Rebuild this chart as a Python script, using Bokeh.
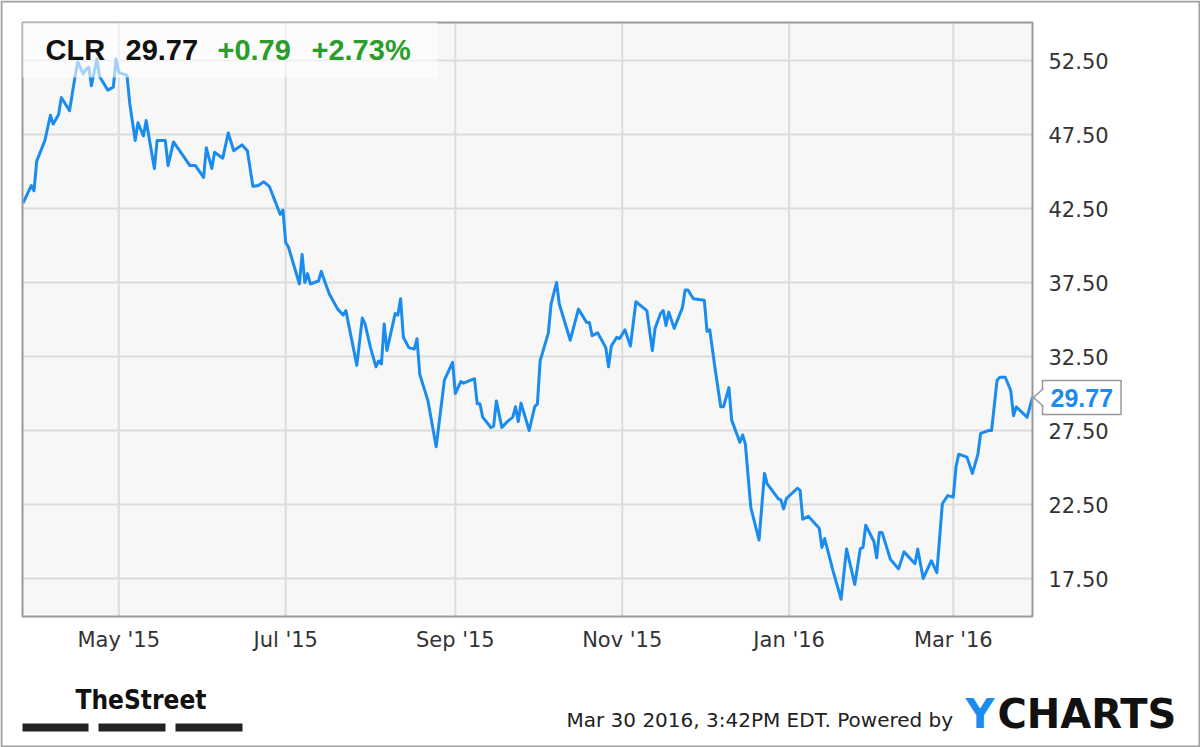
from datetime import datetime, timedelta
import pandas as pd
from bokeh.plotting import figure
from bokeh.models import (ColumnDataSource, Range1d, FixedTicker, DatetimeTickFormatter,
                          PrintfTickFormatter, BoxAnnotation, Label, PolyAnnotation)
from bokeh.embed import file_html
from bokeh.resources import INLINE

# ---------------- data ----------------
ticker_symbol = "CLR"
last_price = "29.77"
change_abs = "+0.79"
change_pct = "+2.73%"
footer_text = "Mar 30 2016, 3:42PM EDT. Powered by"

dates = [
    "2015-03-27", "2015-03-30", "2015-03-31", "2015-04-01", "2015-04-04", "2015-04-06", "2015-04-07",
    "2015-04-09", "2015-04-10", "2015-04-13", "2015-04-15", "2015-04-16", "2015-04-18", "2015-04-19",
    "2015-04-20", "2015-04-21", "2015-04-23", "2015-04-24", "2015-04-27", "2015-04-29", "2015-04-30",
    "2015-05-01", "2015-05-04", "2015-05-05", "2015-05-07", "2015-05-08", "2015-05-10", "2015-05-11",
    "2015-05-14", "2015-05-15", "2015-05-18", "2015-05-19", "2015-05-21", "2015-05-27", "2015-05-29",
    "2015-06-01", "2015-06-02", "2015-06-04", "2015-06-05", "2015-06-08", "2015-06-10", "2015-06-12",
    "2015-06-15", "2015-06-17", "2015-06-19", "2015-06-21", "2015-06-23", "2015-06-25", "2015-06-27",
    "2015-06-29", "2015-06-30",
    "2015-07-01", "2015-07-02", "2015-07-06", "2015-07-07", "2015-07-08", "2015-07-09", "2015-07-10",
    "2015-07-13", "2015-07-14", "2015-07-16", "2015-07-17", "2015-07-20", "2015-07-22", "2015-07-23",
    "2015-07-27", "2015-07-29", "2015-07-30",
    "2015-08-01", "2015-08-03", "2015-08-04", "2015-08-05", "2015-08-06", "2015-08-07", "2015-08-10",
    "2015-08-11", "2015-08-12", "2015-08-13", "2015-08-15", "2015-08-17", "2015-08-18", "2015-08-19",
    "2015-08-22", "2015-08-25", "2015-08-28", "2015-08-31",
    "2015-09-01", "2015-09-03", "2015-09-04", "2015-09-08", "2015-09-09", "2015-09-10", "2015-09-11",
    "2015-09-14", "2015-09-15", "2015-09-16", "2015-09-18", "2015-09-20", "2015-09-22", "2015-09-23",
    "2015-09-24", "2015-09-25", "2015-09-28", "2015-09-30",
    "2015-10-01", "2015-10-02", "2015-10-05", "2015-10-06", "2015-10-08", "2015-10-09", "2015-10-13",
    "2015-10-16", "2015-10-19", "2015-10-20", "2015-10-21", "2015-10-23", "2015-10-26", "2015-10-27",
    "2015-10-28", "2015-10-30", "2015-10-31",
    "2015-11-02", "2015-11-04", "2015-11-06", "2015-11-10", "2015-11-12", "2015-11-13", "2015-11-15",
    "2015-11-16", "2015-11-17", "2015-11-18", "2015-11-20", "2015-11-23", "2015-11-24", "2015-11-25",
    "2015-11-27",
    "2015-12-01", "2015-12-02", "2015-12-03", "2015-12-05", "2015-12-07", "2015-12-08", "2015-12-10",
    "2015-12-11", "2015-12-14", "2015-12-15", "2015-12-16", "2015-12-18", "2015-12-21", "2015-12-23",
    "2015-12-24", "2015-12-28", "2015-12-29", "2015-12-30", "2015-12-31",
    "2016-01-04", "2016-01-05", "2016-01-06", "2016-01-08", "2016-01-11", "2016-01-12", "2016-01-13",
    "2016-01-14", "2016-01-17", "2016-01-20", "2016-01-22", "2016-01-25", "2016-01-27", "2016-01-28",
    "2016-01-29",
    "2016-02-01", "2016-02-02", "2016-02-03", "2016-02-04", "2016-02-06", "2016-02-07", "2016-02-10",
    "2016-02-12", "2016-02-16", "2016-02-17", "2016-02-19", "2016-02-22", "2016-02-24", "2016-02-26",
    "2016-02-28",
    "2016-03-01", "2016-03-02", "2016-03-03", "2016-03-06", "2016-03-08", "2016-03-10", "2016-03-11",
    "2016-03-14", "2016-03-15", "2016-03-17", "2016-03-18", "2016-03-20", "2016-03-22", "2016-03-23",
    "2016-03-24", "2016-03-28", "2016-03-30",
]

close = [
    42.86, 44.05, 43.70, 45.70, 47.10, 48.80, 48.20,
    48.85, 50.00, 49.10, 51.40, 52.40, 51.60, 51.90,
    52.05, 50.80, 52.60, 51.40, 50.50, 50.70, 52.60,
    51.70, 51.50, 49.60, 47.10, 48.30, 47.40, 48.45,
    45.20, 47.10, 47.10, 45.40, 47.00, 45.40, 45.40,
    44.60, 46.60, 45.20, 46.30, 45.90, 47.60, 46.40,
    46.80, 46.40, 44.00, 44.05, 44.30, 44.00, 43.05,
    42.10, 42.40,
    40.20, 39.90, 37.40, 39.40, 37.50, 38.10, 37.40,
    37.60, 38.25, 37.20, 36.70, 35.70, 35.30, 35.60,
    31.90, 35.10, 34.70,
    33.10, 31.80, 32.20, 32.00, 34.70, 32.90, 35.40,
    35.30, 36.40, 33.80, 33.10, 33.00, 33.70, 31.30,
    29.50, 26.40, 30.90, 32.10,
    30.00, 30.80, 30.70, 31.00, 29.30, 29.30, 28.40,
    27.70, 27.80, 29.50, 27.70, 28.10, 28.40, 29.10,
    28.10, 29.35, 27.50, 29.10,
    29.30, 32.20, 34.10, 36.05, 37.50, 36.05, 33.60,
    35.70, 34.80, 34.80, 33.90, 34.10, 33.10, 31.80,
    33.20, 33.80, 33.70,
    34.30, 33.20, 36.20, 35.60, 32.90, 34.40, 35.40,
    35.60, 34.60, 35.50, 34.40, 35.80, 37.00, 37.00,
    36.40,
    36.30, 34.20, 34.30, 31.60, 29.10, 29.10, 30.40,
    28.20, 26.70, 27.20, 26.60, 22.30, 20.10, 24.60,
    23.90, 22.90, 22.80, 22.20, 22.90,
    23.60, 23.45, 21.50, 21.70, 21.10, 20.90, 19.60,
    20.20, 18.05, 16.10, 19.50, 17.10, 19.50, 19.60,
    21.10,
    20.00, 18.90, 20.60, 20.60, 19.40, 18.80, 18.15,
    19.30, 18.50, 19.50, 17.50, 18.70, 17.90, 22.55,
    23.10,
    23.00, 25.05, 25.90, 25.70, 24.60, 25.90, 27.30,
    27.50, 27.50, 30.90, 31.10, 31.10, 30.20, 28.50,
    29.10, 28.40, 29.77,
]

x_tick_dates = ["2015-05-01", "2015-07-01", "2015-09-01", "2015-11-01", "2016-01-01", "2016-03-01"]
y_ticks = [17.5, 22.5, 27.5, 32.5, 37.5, 42.5, 47.5, 52.5]

# ---------------- positioning helpers (canvas pixel -> data) ----------------
EPOCH = datetime(1970, 1, 1)
BASE = datetime(2015, 5, 1)
W, H = 1200, 747


def ms(dt):
    return (dt - EPOCH).total_seconds() * 1000.0


def xpx(px):
    return ms(BASE + timedelta(days=(px - 118.3) / 2.736))


def ypx(py):
    return 52.5 - (py - 60.0) / 14.8


PL, PR, PT, PB = 22, 1032, 22, 616   # chart panel edges in canvas px

LINE_BLUE = "#1a8cf0"
TICK_FONT = "DejaVu Sans"

src = ColumnDataSource(dict(date=pd.to_datetime(dates), close=close))
x_tick_ms = [ms(datetime.strptime(d, "%Y-%m-%d")) for d in x_tick_dates]

p = figure(width=W, height=H, x_axis_type="datetime", y_axis_location="right",
           x_range=Range1d(xpx(0), xpx(W)), y_range=Range1d(ypx(H), ypx(0)),
           output_backend="svg", toolbar_location=None,
           min_border=0, min_border_left=0, min_border_right=0,
           min_border_top=0, min_border_bottom=0)
p.background_fill_color = "white"
p.border_fill_color = "white"
p.outline_line_color = None
p.grid.visible = False

# chart panel background
p.add_layout(BoxAnnotation(left=xpx(PL), right=xpx(PR), top=ypx(PT), bottom=ypx(PB),
                           fill_color="#f7f7f7", fill_alpha=1, line_alpha=0, level="underlay"))

# grid lines at the axis ticks, limited to the chart panel
p.segment(x0=x_tick_ms, x1=x_tick_ms, y0=[ypx(PB)] * len(x_tick_ms), y1=[ypx(PT)] * len(x_tick_ms),
          line_color="#dcdcdc", line_width=2)
p.segment(x0=[xpx(PL)] * len(y_ticks), x1=[xpx(PR)] * len(y_ticks), y0=y_ticks, y1=y_ticks,
          line_color="#dcdcdc", line_width=2)

p.line(x="date", y="close", source=src, line_color=LINE_BLUE, line_width=3, line_join="round")

# panel outline
p.add_layout(BoxAnnotation(left=xpx(PL), right=xpx(PR), top=ypx(PT), bottom=ypx(PB),
                           fill_alpha=0, line_color="#9a9a9a", line_alpha=1, line_width=2))
# outer image border
p.add_layout(BoxAnnotation(left=xpx(1), right=xpx(W - 1), top=ypx(1), bottom=ypx(H - 1),
                           fill_alpha=0, line_color="#a0a0a0", line_alpha=1, line_width=2))

# axes (labels pulled inside the canvas)
p.xaxis.ticker = FixedTicker(ticks=x_tick_ms)
p.xaxis.formatter = DatetimeTickFormatter(days="%b '%y", months="%b '%y", years="%b '%y")
p.yaxis.ticker = FixedTicker(ticks=y_ticks)
p.yaxis.formatter = PrintfTickFormatter(format="%.2f")
for ax in (p.xaxis, p.yaxis):
    ax.axis_line_color = None
    ax.major_tick_line_color = None
    ax.minor_tick_line_color = None
    ax.major_tick_out = 0
    ax.major_tick_in = 0
    ax.minor_tick_out = 0
    ax.minor_tick_in = 0
    ax.major_label_text_font = TICK_FONT
    ax.major_label_text_font_size = "21px"
    ax.major_label_text_color = "#333333"
p.xaxis.major_label_standoff = 627 - H
p.yaxis.major_label_standoff = 1048 - W

# header translucent box
p.add_layout(BoxAnnotation(left=xpx(PL), right=xpx(437), top=ypx(PT), bottom=ypx(77),
                           fill_color="white", fill_alpha=0.6, line_alpha=0))

header = [(45, ticker_symbol, "#111111"), (125, last_price, "#111111"),
          (217, change_abs, "#2a9d2a"), (311, change_pct, "#2a9d2a")]
for px, txt, col in header:
    p.add_layout(Label(x=xpx(px), y=ypx(49), text=txt, text_color=col,
                       text_font="Liberation Sans", text_font_style="bold",
                       text_font_size="29px", text_baseline="middle", text_align="left"))

# last-price callout
p.add_layout(Label(x=xpx(1042), y=ypx(397), text=last_price, text_color=LINE_BLUE,
                   text_font="Liberation Sans", text_font_style="bold", text_font_size="25px",
                   text_baseline="middle", text_align="left",
                   background_fill_color="white", border_line_color="#999999",
                   border_line_width=1.5, padding=8))
# notch: erase the box border, then draw the "<" pointer
p.add_layout(PolyAnnotation(xs=[xpx(1044), xpx(1033), xpx(1044)],
                            ys=[ypx(388), ypx(397), ypx(406)],
                            fill_color="white", fill_alpha=1, line_alpha=0))
p.add_layout(PolyAnnotation(xs=[xpx(1043), xpx(1033), xpx(1043), xpx(1033)],
                            ys=[ypx(388), ypx(397), ypx(406), ypx(397)],
                            fill_alpha=0, line_color="#999999", line_alpha=1, line_width=1.5))

# ---------------- footer ----------------
p.quad(left=[xpx(22), xpx(98), xpx(175)], right=[xpx(88), xpx(165), xpx(242)],
       top=[ypx(723)] * 3, bottom=[ypx(731)] * 3, fill_color="#222222", line_color=None)
p.add_layout(Label(x=xpx(75), y=ypx(699), text="TheStreet", text_color="#111111",
                   text_font="'DejaVu Sans Condensed', 'Liberation Sans'", text_font_style="bold",
                   text_font_size="26px", text_baseline="middle"))
p.add_layout(Label(x=xpx(566), y=ypx(719), text=footer_text, text_color="#222222",
                   text_font=TICK_FONT, text_font_size="20px", text_baseline="middle"))
p.add_layout(Label(x=xpx(965), y=ypx(713), text="Y", text_color=LINE_BLUE,
                   text_font="DejaVu Sans", text_font_style="bold",
                   text_font_size="40px", text_baseline="middle"))
p.add_layout(Label(x=xpx(997), y=ypx(713), text="CHARTS", text_color="#111111",
                   text_font="DejaVu Sans", text_font_style="bold",
                   text_font_size="40px", text_baseline="middle"))

open("out.html", "w").write(file_html(p, INLINE))
